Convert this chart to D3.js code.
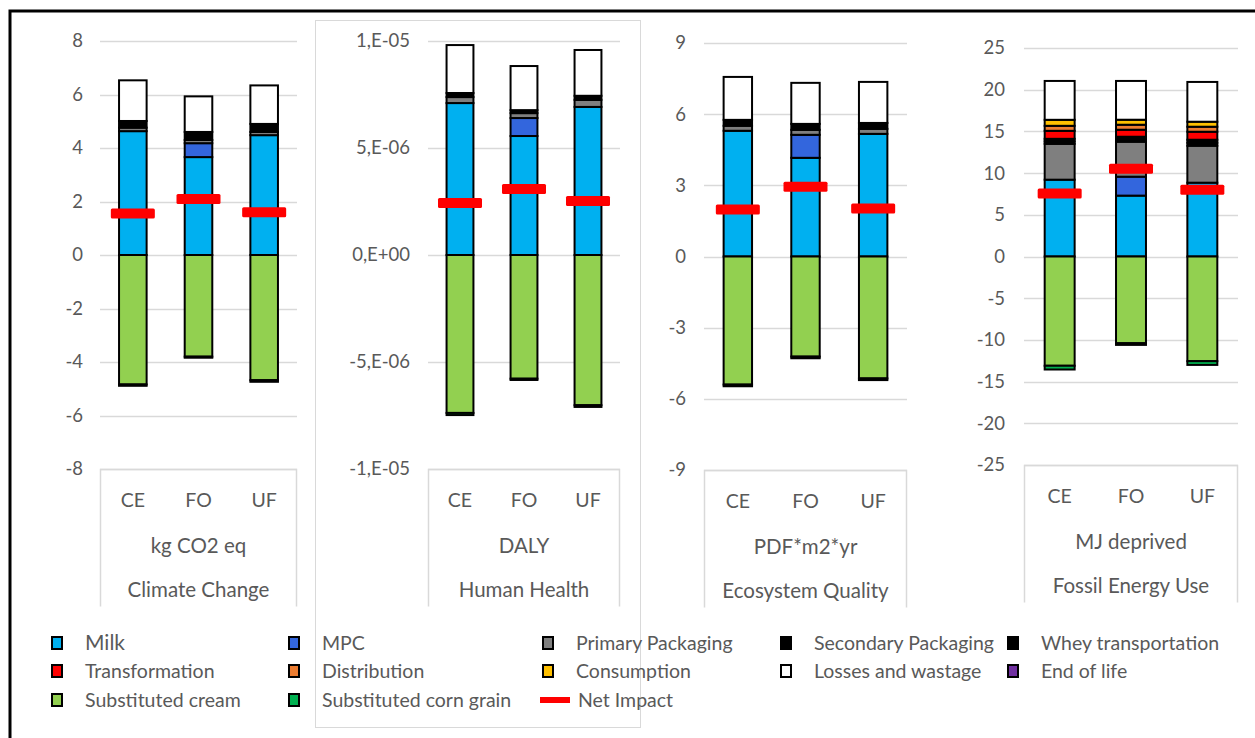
<!DOCTYPE html>
<html><head><meta charset="utf-8">
<script src="https://cdn.jsdelivr.net/npm/d3@7"></script>
<style>html,body{margin:0;padding:0;background:#fff;}svg{display:block;}</style>
</head><body>
<svg id="c" width="1255" height="738"></svg>
<script>
// ---------- DATA ----------
const categories = ["CE", "FO", "UF"];
const seriesNames = ["Milk", "MPC", "Primary Packaging", "Secondary Packaging", "Whey transportation",
  "Transformation", "Distribution", "Consumption", "Losses and wastage", "End of life",
  "Substituted cream", "Substituted corn grain"];
const seriesColors = ["#00b0f0", "#3366dd", "#7f7f7f", "#000000", "#000000",
  "#ff0000", "#ed7d31", "#ffc000", "#ffffff", "#7030a0", "#92d050", "#00b050"];

// values per category (CE, FO, UF), in seriesNames order
const climateValues = [
  [4.63, 0, 0.13, 0.25, 0, 0, 0, 0, 1.52, 0, -4.84, -0.05],
  [3.66, 0.52, 0.12, 0.30, 0, 0, 0, 0, 1.33, 0, -3.80, -0.04],
  [4.48, 0, 0.12, 0.30, 0, 0, 0, 0, 1.44, 0, -4.68, -0.06]
];
const climateNet = [1.55, 2.09, 1.60];
const climateTicks = [-8, -6, -4, -2, 0, 2, 4, 6, 8];

const healthValues = [
  [7.10e-6, 0, 0.28e-6, 0.19e-6, 0, 0, 0, 0, 2.24e-6, 0, -7.38e-6, -0.10e-6],
  [5.56e-6, 0.84e-6, 0.23e-6, 0.14e-6, 0, 0, 0, 0, 2.06e-6, 0, -5.78e-6, -0.06e-6],
  [6.92e-6, 0, 0.33e-6, 0.19e-6, 0, 0, 0, 0, 2.14e-6, 0, -7.02e-6, -0.08e-6]
];
const healthNet = [2.43e-6, 3.08e-6, 2.52e-6];
const healthTicks = [-1e-5, -5e-6, 0, 5e-6, 1e-5];
const healthTickLabels = ["-1,E-05", "-5,E-06", "0,E+00", "5,E-06", "1,E-05"];

const ecoValues = [
  [5.30, 0, 0.21, 0.25, 0, 0, 0, 0, 1.81, 0, -5.40, -0.07],
  [4.16, 0.97, 0.21, 0.25, 0, 0, 0, 0, 1.73, 0, -4.22, -0.07],
  [5.17, 0, 0.21, 0.25, 0, 0, 0, 0, 1.73, 0, -5.14, -0.07]
];
const ecoNet = [1.98, 2.94, 2.02];
const ecoTicks = [-9, -6, -3, 0, 3, 6, 9];

const fossilValues = [
  [9.21, 0, 4.30, 0.30, 0.30, 0.96, 0.60, 0.72, 4.66, 0, -13.10, -0.45],
  [7.30, 2.27, 4.19, 0.30, 0.30, 0.84, 0.60, 0.60, 4.65, 0, -10.40, -0.20],
  [8.85, 0, 4.43, 0.36, 0.36, 0.96, 0.60, 0.60, 4.77, 0, -12.55, -0.45]
];
const fossilNet = [7.54, 10.53, 8.01];
const fossilTicks = [-25, -20, -15, -10, -5, 0, 5, 10, 15, 20, 25];

const unitLabels = ["kg CO2 eq", "DALY", "PDF*m2*yr", "MJ deprived"];
const panelTitles = ["Climate Change", "Human Health", "Ecosystem Quality", "Fossil Energy Use"];

// ---------- LAYOUT ----------
const svg = d3.select("#c");
const FONT = "Lato, 'Open Sans', sans-serif";
const TXT = "#595959";

// outer frame
svg.append("rect").attr("x", 10).attr("y", 11).attr("width", 1260).attr("height", 760)
  .attr("fill", "none").attr("stroke", "#000").attr("stroke-width", 3);
// Human Health chart border
svg.append("rect").attr("x", 315.5).attr("y", 20.5).attr("width", 325).attr("height", 707)
  .attr("fill", "none").attr("stroke", "#d9d9d9").attr("stroke-width", 1);

const panels = [
  {values: climateValues, net: climateNet, ticks: climateTicks, labels: climateTicks.map(String),
   domain: [-8, 8], x0: 100, x1: 297, yTop: 41, yBot: 469, labelX: 83},
  {values: healthValues, net: healthNet, ticks: healthTicks, labels: healthTickLabels,
   domain: [-1e-5, 1e-5], x0: 428, x1: 620, yTop: 41, yBot: 469, labelX: 410},
  {values: ecoValues, net: ecoNet, ticks: ecoTicks, labels: ecoTicks.map(String),
   domain: [-9, 9], x0: 704, x1: 907, yTop: 43, yBot: 470, labelX: 686},
  {values: fossilValues, net: fossilNet, ticks: fossilTicks, labels: fossilTicks.map(String),
   domain: [-25, 25], x0: 1024, x1: 1238, yTop: 48, yBot: 465, labelX: 1005}
];

panels.forEach((p, pi) => {
  const g = svg.append("g");
  const y = d3.scaleLinear().domain(p.domain).range([p.yBot, p.yTop]);
  const x = d3.scaleBand().domain(categories).range([p.x0, p.x1]).paddingInner(0.58).paddingOuter(0.29);

  // gridlines
  g.selectAll("line.grid").data(p.ticks).join("line")
    .attr("x1", p.x0).attr("x2", p.x1)
    .attr("y1", d => Math.round(y(d)) + 0.5).attr("y2", d => Math.round(y(d)) + 0.5)
    .attr("stroke", "#d9d9d9").attr("stroke-width", 1.5);

  // tick labels
  g.selectAll("text.tick").data(p.ticks).join("text")
    .attr("x", p.labelX).attr("y", d => y(d)).attr("dy", "0.35em")
    .attr("text-anchor", "end").attr("fill", TXT)
    .style("font-family", FONT).style("font-size", "18.5px")
    .text((d, i) => p.labels[i]);

  // category box
  const bTop = p.yBot + 0.5;
  g.append("path")
    .attr("d", `M${p.x0 + 0.5},${bTop + 137}V${bTop}H${p.x1 - 0.5}V${bTop + 137}`)
    .attr("fill", "none").attr("stroke", "#d9d9d9").attr("stroke-width", 1.5);
  g.selectAll("text.cat").data(categories).join("text")
    .attr("x", d => x(d) + x.bandwidth() / 2).attr("y", p.yBot + 38)
    .attr("text-anchor", "middle").attr("fill", TXT)
    .style("font-family", FONT).style("font-size", "19.5px").text(d => d);
  g.append("text").attr("x", (p.x0 + p.x1) / 2).attr("y", p.yBot + 84)
    .attr("text-anchor", "middle").attr("fill", TXT)
    .style("font-family", FONT).style("font-size", "20.5px").text(unitLabels[pi]);
  g.append("text").attr("x", (p.x0 + p.x1) / 2).attr("y", p.yBot + 128)
    .attr("text-anchor", "middle").attr("fill", TXT)
    .style("font-family", FONT).style("font-size", "20.5px").text(panelTitles[pi]);

  // stacked bars
  categories.forEach((c, ci) => {
    const vals = p.values[ci];
    let pos = 0, neg = 0;
    const segs = [];
    vals.forEach((v, si) => {
      if (v === 0) return;
      if (v > 0) { segs.push({si, a: pos, b: pos + v}); pos += v; }
      else { segs.push({si, a: neg + v, b: neg}); neg += v; }
    });
    g.selectAll(null).data(segs).join("rect")
      .attr("x", x(c)).attr("width", x.bandwidth())
      .attr("y", d => y(d.b)).attr("height", d => Math.max(0.5, y(d.a) - y(d.b)))
      .attr("fill", d => seriesColors[d.si])
      .attr("stroke", "#000").attr("stroke-width", 2);
    // net impact marker
    const w = 44, h = 10;
    g.append("rect")
      .attr("x", x(c) + x.bandwidth() / 2 - w / 2).attr("y", y(p.net[ci]) - h / 2)
      .attr("width", w).attr("height", h).attr("rx", 1.5)
      .attr("fill", "#ff0000");
  });
});

// ---------- LEGEND ----------
const legendCols = [57, 294, 548, 786, 1013];
const legendRows = [643, 671, 700];
const legendItems = [
  [0, 0, 0], [1, 0, 1], [2, 0, 2], [3, 0, 3], [4, 0, 4],
  [5, 1, 0], [6, 1, 1], [7, 1, 2], [8, 1, 3], [9, 1, 4],
  [10, 2, 0], [11, 2, 1]
];
const lg = svg.append("g");
legendItems.forEach(([si, r, c]) => {
  const lx = legendCols[c], ly = legendRows[r];
  lg.append("rect").attr("x", lx - 5).attr("y", ly - 6).attr("width", 10).attr("height", 12)
    .attr("fill", seriesColors[si]).attr("stroke", "#000").attr("stroke-width", 2);
  lg.append("text").attr("x", lx + 28).attr("y", ly).attr("dy", "0.35em")
    .attr("fill", TXT).style("font-family", FONT)
    .style("font-size", si === 0 ? "21px" : "19.5px").text(seriesNames[si]);
});
lg.append("rect").attr("x", legendCols[2] - 8).attr("y", legendRows[2] - 3).attr("width", 30).attr("height", 6)
  .attr("fill", "#ff0000");
lg.append("text").attr("x", legendCols[2] + 30).attr("y", legendRows[2]).attr("dy", "0.35em")
  .attr("fill", TXT).style("font-family", FONT).style("font-size", "19.5px").text("Net Impact");
</script>
</body></html>
